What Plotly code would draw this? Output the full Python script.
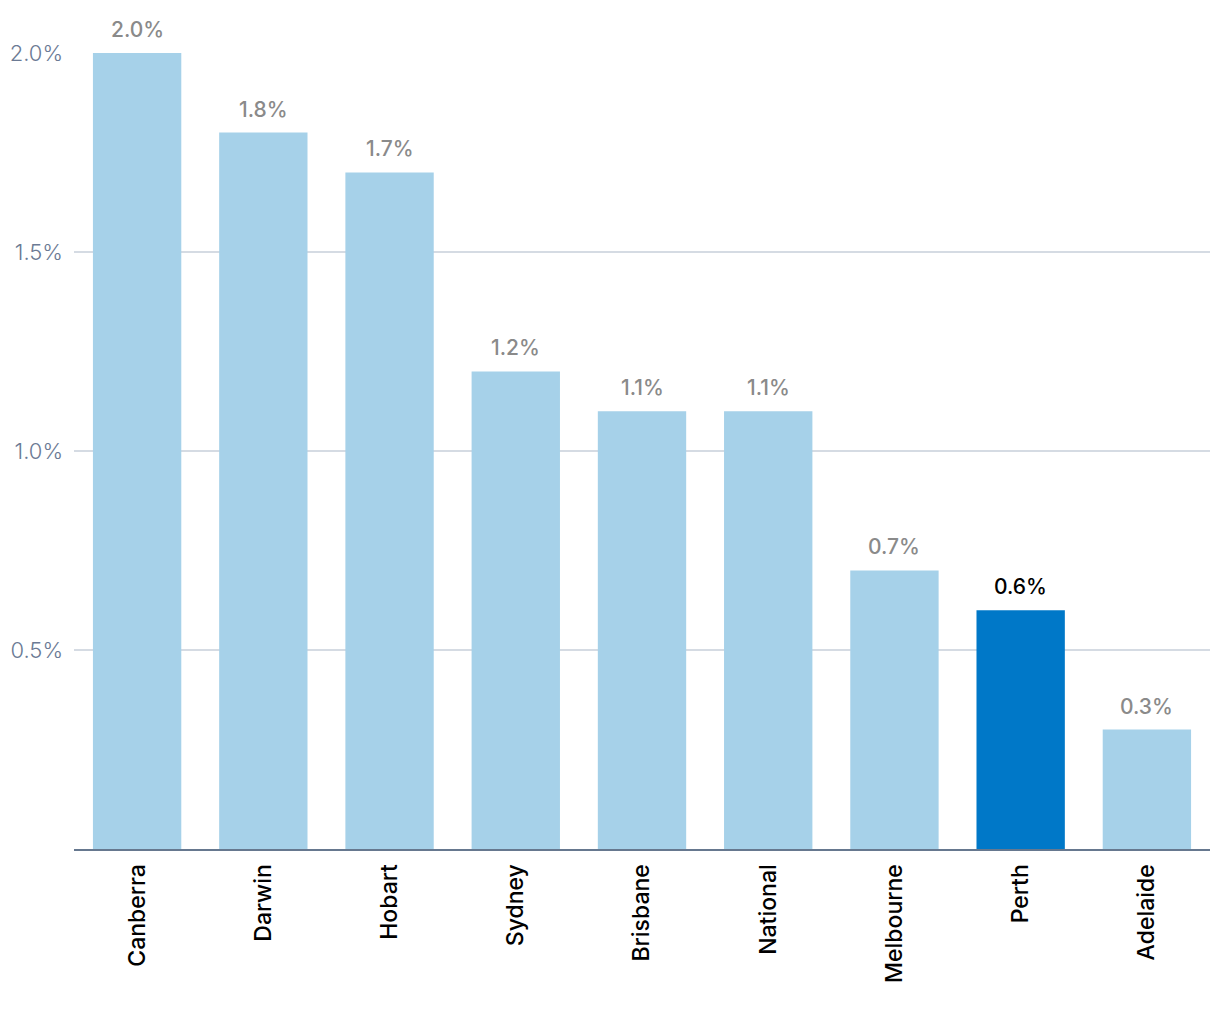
import plotly.graph_objects as go

cities = ['Canberra', 'Darwin', 'Hobart', 'Sydney', 'Brisbane',
          'National', 'Melbourne', 'Perth', 'Adelaide']
growth = [2.0, 1.8, 1.7, 1.2, 1.1, 1.1, 0.7, 0.6, 0.3]
highlight = 'Perth'

light = '#a6d1e9'
dark = '#0078c8'

colors = [dark if c == highlight else light for c in cities]

fig = go.Figure(go.Bar(
    x=cities, y=growth,
    marker=dict(color=colors, line=dict(width=0)),
    hoverinfo='x+y'))

for c, v in zip(cities, growth):
    fig.add_annotation(
        x=c, y=v, text='{:.1f}%'.format(v),
        showarrow=False, yanchor='bottom', yshift=9,
        font=dict(size=21, weight=500,
                  color='#000000' if c == highlight else '#8a8a8a',
                  family='Inter'))

fig.update_layout(
    width=1220, height=1020,
    margin=dict(l=66, r=18, t=45, b=179),
    paper_bgcolor='white', plot_bgcolor='white',
    bargap=0.3, showlegend=False,
    font=dict(family='Inter'),
    xaxis=dict(
        tickangle=-90, showgrid=False, ticks='', automargin=False,
        showline=True, linecolor='#66788f', linewidth=2,
        ticklabelstandoff=4,
        tickfont=dict(size=23, weight=500, color='#000000')),
    yaxis=dict(
        range=[0, 2.0], tickvals=[0.5, 1.0, 1.5, 2.0],
        ticktext=['0.5%', '1.0%', '1.5%', '2.0%'], automargin=False,
        showgrid=True, gridcolor='#d5dbe3', gridwidth=1.5,
        zeroline=False, ticks='', ticklabelstandoff=10,
        tickfont=dict(size=22, weight=300, color='#6b7a94')),
)

fig.write_html('out.html')
